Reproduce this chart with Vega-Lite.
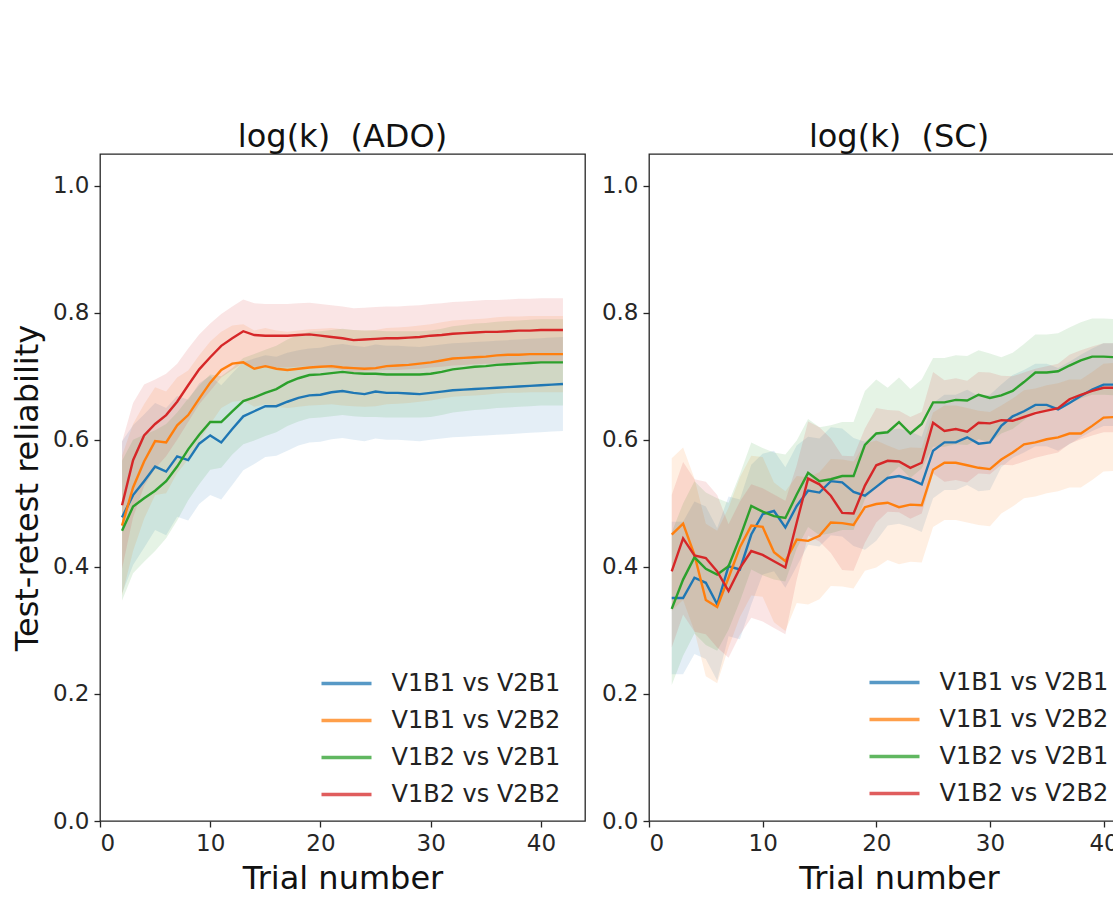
{
"$schema": "https://vega.github.io/schema/vega-lite/v6.json",
"padding": {"left": 10, "top": 120, "right": 0, "bottom": 0},
"background": "white",
"config": {
  "font": "DejaVu Sans",
  "view": {"stroke": "#262626", "strokeWidth": 1.3},
  "axis": {"grid": false, "domain": false, "tickColor": "#262626", "tickWidth": 1.3, "tickSize": 6, "labelFont": "DejaVu Sans", "labelFontSize": 23, "labelColor": "#262626", "labelPadding": 5, "titleFont": "DejaVu Sans", "titleFontSize": 32, "titleFontWeight": "normal", "titleColor": "#111111", "titlePadding": 8},
  "title": {"font": "DejaVu Sans", "fontSize": 32, "fontWeight": "normal", "color": "#111111", "offset": 0.1}
},
"datasets": {
"ado": [
{"series":"V1B1 vs V2B1","trial":2,"r":0.478,"lo":0.358,"hi":0.598},
{"series":"V1B1 vs V2B1","trial":3,"r":0.513,"lo":0.403,"hi":0.623},
{"series":"V1B1 vs V2B1","trial":4,"r":0.535,"lo":0.430,"hi":0.640},
{"series":"V1B1 vs V2B1","trial":5,"r":0.558,"lo":0.458,"hi":0.658},
{"series":"V1B1 vs V2B1","trial":6,"r":0.550,"lo":0.450,"hi":0.650},
{"series":"V1B1 vs V2B1","trial":7,"r":0.574,"lo":0.479,"hi":0.669},
{"series":"V1B1 vs V2B1","trial":8,"r":0.568,"lo":0.473,"hi":0.663},
{"series":"V1B1 vs V2B1","trial":9,"r":0.594,"lo":0.499,"hi":0.689},
{"series":"V1B1 vs V2B1","trial":10,"r":0.607,"lo":0.513,"hi":0.701},
{"series":"V1B1 vs V2B1","trial":11,"r":0.596,"lo":0.506,"hi":0.686},
{"series":"V1B1 vs V2B1","trial":12,"r":0.617,"lo":0.529,"hi":0.705},
{"series":"V1B1 vs V2B1","trial":13,"r":0.637,"lo":0.552,"hi":0.722},
{"series":"V1B1 vs V2B1","trial":14,"r":0.645,"lo":0.562,"hi":0.728},
{"series":"V1B1 vs V2B1","trial":15,"r":0.653,"lo":0.573,"hi":0.733},
{"series":"V1B1 vs V2B1","trial":16,"r":0.653,"lo":0.575,"hi":0.731},
{"series":"V1B1 vs V2B1","trial":17,"r":0.660,"lo":0.583,"hi":0.737},
{"series":"V1B1 vs V2B1","trial":18,"r":0.666,"lo":0.591,"hi":0.741},
{"series":"V1B1 vs V2B1","trial":19,"r":0.670,"lo":0.596,"hi":0.744},
{"series":"V1B1 vs V2B1","trial":20,"r":0.671,"lo":0.597,"hi":0.745},
{"series":"V1B1 vs V2B1","trial":21,"r":0.675,"lo":0.601,"hi":0.749},
{"series":"V1B1 vs V2B1","trial":22,"r":0.677,"lo":0.603,"hi":0.751},
{"series":"V1B1 vs V2B1","trial":23,"r":0.674,"lo":0.600,"hi":0.748},
{"series":"V1B1 vs V2B1","trial":24,"r":0.672,"lo":0.598,"hi":0.746},
{"series":"V1B1 vs V2B1","trial":25,"r":0.676,"lo":0.602,"hi":0.750},
{"series":"V1B1 vs V2B1","trial":26,"r":0.674,"lo":0.600,"hi":0.748},
{"series":"V1B1 vs V2B1","trial":27,"r":0.674,"lo":0.600,"hi":0.748},
{"series":"V1B1 vs V2B1","trial":28,"r":0.673,"lo":0.599,"hi":0.747},
{"series":"V1B1 vs V2B1","trial":29,"r":0.672,"lo":0.598,"hi":0.746},
{"series":"V1B1 vs V2B1","trial":30,"r":0.674,"lo":0.600,"hi":0.748},
{"series":"V1B1 vs V2B1","trial":31,"r":0.676,"lo":0.602,"hi":0.750},
{"series":"V1B1 vs V2B1","trial":32,"r":0.678,"lo":0.604,"hi":0.752},
{"series":"V1B1 vs V2B1","trial":33,"r":0.679,"lo":0.605,"hi":0.753},
{"series":"V1B1 vs V2B1","trial":34,"r":0.680,"lo":0.606,"hi":0.754},
{"series":"V1B1 vs V2B1","trial":35,"r":0.681,"lo":0.607,"hi":0.755},
{"series":"V1B1 vs V2B1","trial":36,"r":0.682,"lo":0.608,"hi":0.756},
{"series":"V1B1 vs V2B1","trial":37,"r":0.683,"lo":0.609,"hi":0.757},
{"series":"V1B1 vs V2B1","trial":38,"r":0.684,"lo":0.610,"hi":0.758},
{"series":"V1B1 vs V2B1","trial":39,"r":0.685,"lo":0.611,"hi":0.759},
{"series":"V1B1 vs V2B1","trial":40,"r":0.686,"lo":0.612,"hi":0.760},
{"series":"V1B1 vs V2B1","trial":41,"r":0.687,"lo":0.613,"hi":0.761},
{"series":"V1B1 vs V2B1","trial":42,"r":0.688,"lo":0.614,"hi":0.762},
{"series":"V1B1 vs V2B2","trial":2,"r":0.465,"lo":0.355,"hi":0.575},
{"series":"V1B1 vs V2B2","trial":3,"r":0.525,"lo":0.425,"hi":0.625},
{"series":"V1B1 vs V2B2","trial":4,"r":0.566,"lo":0.476,"hi":0.656},
{"series":"V1B1 vs V2B2","trial":5,"r":0.598,"lo":0.513,"hi":0.683},
{"series":"V1B1 vs V2B2","trial":6,"r":0.596,"lo":0.516,"hi":0.676},
{"series":"V1B1 vs V2B2","trial":7,"r":0.623,"lo":0.548,"hi":0.698},
{"series":"V1B1 vs V2B2","trial":8,"r":0.639,"lo":0.569,"hi":0.709},
{"series":"V1B1 vs V2B2","trial":9,"r":0.665,"lo":0.597,"hi":0.733},
{"series":"V1B1 vs V2B2","trial":10,"r":0.690,"lo":0.625,"hi":0.755},
{"series":"V1B1 vs V2B2","trial":11,"r":0.710,"lo":0.650,"hi":0.770},
{"series":"V1B1 vs V2B2","trial":12,"r":0.720,"lo":0.660,"hi":0.780},
{"series":"V1B1 vs V2B2","trial":13,"r":0.722,"lo":0.662,"hi":0.782},
{"series":"V1B1 vs V2B2","trial":14,"r":0.712,"lo":0.652,"hi":0.772},
{"series":"V1B1 vs V2B2","trial":15,"r":0.716,"lo":0.656,"hi":0.776},
{"series":"V1B1 vs V2B2","trial":16,"r":0.712,"lo":0.652,"hi":0.772},
{"series":"V1B1 vs V2B2","trial":17,"r":0.710,"lo":0.650,"hi":0.770},
{"series":"V1B1 vs V2B2","trial":18,"r":0.712,"lo":0.652,"hi":0.772},
{"series":"V1B1 vs V2B2","trial":19,"r":0.714,"lo":0.654,"hi":0.774},
{"series":"V1B1 vs V2B2","trial":20,"r":0.715,"lo":0.655,"hi":0.775},
{"series":"V1B1 vs V2B2","trial":21,"r":0.716,"lo":0.656,"hi":0.776},
{"series":"V1B1 vs V2B2","trial":22,"r":0.714,"lo":0.654,"hi":0.774},
{"series":"V1B1 vs V2B2","trial":23,"r":0.713,"lo":0.653,"hi":0.773},
{"series":"V1B1 vs V2B2","trial":24,"r":0.712,"lo":0.652,"hi":0.772},
{"series":"V1B1 vs V2B2","trial":25,"r":0.713,"lo":0.653,"hi":0.773},
{"series":"V1B1 vs V2B2","trial":26,"r":0.716,"lo":0.656,"hi":0.776},
{"series":"V1B1 vs V2B2","trial":27,"r":0.717,"lo":0.657,"hi":0.777},
{"series":"V1B1 vs V2B2","trial":28,"r":0.718,"lo":0.658,"hi":0.778},
{"series":"V1B1 vs V2B2","trial":29,"r":0.720,"lo":0.660,"hi":0.780},
{"series":"V1B1 vs V2B2","trial":30,"r":0.722,"lo":0.662,"hi":0.782},
{"series":"V1B1 vs V2B2","trial":31,"r":0.725,"lo":0.665,"hi":0.785},
{"series":"V1B1 vs V2B2","trial":32,"r":0.728,"lo":0.668,"hi":0.788},
{"series":"V1B1 vs V2B2","trial":33,"r":0.729,"lo":0.669,"hi":0.789},
{"series":"V1B1 vs V2B2","trial":34,"r":0.730,"lo":0.670,"hi":0.790},
{"series":"V1B1 vs V2B2","trial":35,"r":0.731,"lo":0.671,"hi":0.791},
{"series":"V1B1 vs V2B2","trial":36,"r":0.733,"lo":0.673,"hi":0.793},
{"series":"V1B1 vs V2B2","trial":37,"r":0.734,"lo":0.674,"hi":0.794},
{"series":"V1B1 vs V2B2","trial":38,"r":0.734,"lo":0.674,"hi":0.794},
{"series":"V1B1 vs V2B2","trial":39,"r":0.735,"lo":0.675,"hi":0.795},
{"series":"V1B1 vs V2B2","trial":40,"r":0.735,"lo":0.675,"hi":0.795},
{"series":"V1B1 vs V2B2","trial":41,"r":0.735,"lo":0.675,"hi":0.795},
{"series":"V1B1 vs V2B2","trial":42,"r":0.735,"lo":0.675,"hi":0.795},
{"series":"V1B2 vs V2B1","trial":2,"r":0.457,"lo":0.347,"hi":0.567},
{"series":"V1B2 vs V2B1","trial":3,"r":0.495,"lo":0.390,"hi":0.600},
{"series":"V1B2 vs V2B1","trial":4,"r":0.508,"lo":0.408,"hi":0.608},
{"series":"V1B2 vs V2B1","trial":5,"r":0.520,"lo":0.425,"hi":0.615},
{"series":"V1B2 vs V2B1","trial":6,"r":0.535,"lo":0.445,"hi":0.625},
{"series":"V1B2 vs V2B1","trial":7,"r":0.558,"lo":0.473,"hi":0.643},
{"series":"V1B2 vs V2B1","trial":8,"r":0.585,"lo":0.505,"hi":0.665},
{"series":"V1B2 vs V2B1","trial":9,"r":0.608,"lo":0.530,"hi":0.686},
{"series":"V1B2 vs V2B1","trial":10,"r":0.628,"lo":0.553,"hi":0.703},
{"series":"V1B2 vs V2B1","trial":11,"r":0.628,"lo":0.556,"hi":0.700},
{"series":"V1B2 vs V2B1","trial":12,"r":0.645,"lo":0.577,"hi":0.713},
{"series":"V1B2 vs V2B1","trial":13,"r":0.661,"lo":0.593,"hi":0.729},
{"series":"V1B2 vs V2B1","trial":14,"r":0.667,"lo":0.599,"hi":0.735},
{"series":"V1B2 vs V2B1","trial":15,"r":0.674,"lo":0.606,"hi":0.742},
{"series":"V1B2 vs V2B1","trial":16,"r":0.680,"lo":0.612,"hi":0.748},
{"series":"V1B2 vs V2B1","trial":17,"r":0.690,"lo":0.622,"hi":0.758},
{"series":"V1B2 vs V2B1","trial":18,"r":0.697,"lo":0.629,"hi":0.765},
{"series":"V1B2 vs V2B1","trial":19,"r":0.702,"lo":0.634,"hi":0.770},
{"series":"V1B2 vs V2B1","trial":20,"r":0.703,"lo":0.635,"hi":0.771},
{"series":"V1B2 vs V2B1","trial":21,"r":0.705,"lo":0.637,"hi":0.773},
{"series":"V1B2 vs V2B1","trial":22,"r":0.707,"lo":0.639,"hi":0.775},
{"series":"V1B2 vs V2B1","trial":23,"r":0.705,"lo":0.637,"hi":0.773},
{"series":"V1B2 vs V2B1","trial":24,"r":0.704,"lo":0.636,"hi":0.772},
{"series":"V1B2 vs V2B1","trial":25,"r":0.704,"lo":0.636,"hi":0.772},
{"series":"V1B2 vs V2B1","trial":26,"r":0.703,"lo":0.635,"hi":0.771},
{"series":"V1B2 vs V2B1","trial":27,"r":0.703,"lo":0.635,"hi":0.771},
{"series":"V1B2 vs V2B1","trial":28,"r":0.703,"lo":0.635,"hi":0.771},
{"series":"V1B2 vs V2B1","trial":29,"r":0.703,"lo":0.635,"hi":0.771},
{"series":"V1B2 vs V2B1","trial":30,"r":0.704,"lo":0.636,"hi":0.772},
{"series":"V1B2 vs V2B1","trial":31,"r":0.707,"lo":0.639,"hi":0.775},
{"series":"V1B2 vs V2B1","trial":32,"r":0.711,"lo":0.643,"hi":0.779},
{"series":"V1B2 vs V2B1","trial":33,"r":0.713,"lo":0.645,"hi":0.781},
{"series":"V1B2 vs V2B1","trial":34,"r":0.715,"lo":0.647,"hi":0.783},
{"series":"V1B2 vs V2B1","trial":35,"r":0.716,"lo":0.648,"hi":0.784},
{"series":"V1B2 vs V2B1","trial":36,"r":0.718,"lo":0.650,"hi":0.786},
{"series":"V1B2 vs V2B1","trial":37,"r":0.719,"lo":0.651,"hi":0.787},
{"series":"V1B2 vs V2B1","trial":38,"r":0.720,"lo":0.652,"hi":0.788},
{"series":"V1B2 vs V2B1","trial":39,"r":0.721,"lo":0.653,"hi":0.789},
{"series":"V1B2 vs V2B1","trial":40,"r":0.722,"lo":0.654,"hi":0.790},
{"series":"V1B2 vs V2B1","trial":41,"r":0.722,"lo":0.654,"hi":0.790},
{"series":"V1B2 vs V2B1","trial":42,"r":0.722,"lo":0.654,"hi":0.790},
{"series":"V1B2 vs V2B2","trial":2,"r":0.497,"lo":0.397,"hi":0.597},
{"series":"V1B2 vs V2B2","trial":3,"r":0.568,"lo":0.478,"hi":0.658},
{"series":"V1B2 vs V2B2","trial":4,"r":0.607,"lo":0.527,"hi":0.687},
{"series":"V1B2 vs V2B2","trial":5,"r":0.625,"lo":0.555,"hi":0.695},
{"series":"V1B2 vs V2B2","trial":6,"r":0.639,"lo":0.574,"hi":0.704},
{"series":"V1B2 vs V2B2","trial":7,"r":0.660,"lo":0.600,"hi":0.720},
{"series":"V1B2 vs V2B2","trial":8,"r":0.686,"lo":0.628,"hi":0.744},
{"series":"V1B2 vs V2B2","trial":9,"r":0.711,"lo":0.656,"hi":0.766},
{"series":"V1B2 vs V2B2","trial":10,"r":0.730,"lo":0.677,"hi":0.783},
{"series":"V1B2 vs V2B2","trial":11,"r":0.748,"lo":0.698,"hi":0.798},
{"series":"V1B2 vs V2B2","trial":12,"r":0.760,"lo":0.710,"hi":0.810},
{"series":"V1B2 vs V2B2","trial":13,"r":0.771,"lo":0.721,"hi":0.821},
{"series":"V1B2 vs V2B2","trial":14,"r":0.765,"lo":0.715,"hi":0.815},
{"series":"V1B2 vs V2B2","trial":15,"r":0.764,"lo":0.714,"hi":0.814},
{"series":"V1B2 vs V2B2","trial":16,"r":0.764,"lo":0.714,"hi":0.814},
{"series":"V1B2 vs V2B2","trial":17,"r":0.764,"lo":0.714,"hi":0.814},
{"series":"V1B2 vs V2B2","trial":18,"r":0.765,"lo":0.715,"hi":0.815},
{"series":"V1B2 vs V2B2","trial":19,"r":0.766,"lo":0.716,"hi":0.816},
{"series":"V1B2 vs V2B2","trial":20,"r":0.764,"lo":0.714,"hi":0.814},
{"series":"V1B2 vs V2B2","trial":21,"r":0.762,"lo":0.712,"hi":0.812},
{"series":"V1B2 vs V2B2","trial":22,"r":0.760,"lo":0.710,"hi":0.810},
{"series":"V1B2 vs V2B2","trial":23,"r":0.757,"lo":0.707,"hi":0.807},
{"series":"V1B2 vs V2B2","trial":24,"r":0.758,"lo":0.708,"hi":0.808},
{"series":"V1B2 vs V2B2","trial":25,"r":0.759,"lo":0.709,"hi":0.809},
{"series":"V1B2 vs V2B2","trial":26,"r":0.760,"lo":0.710,"hi":0.810},
{"series":"V1B2 vs V2B2","trial":27,"r":0.760,"lo":0.710,"hi":0.810},
{"series":"V1B2 vs V2B2","trial":28,"r":0.761,"lo":0.711,"hi":0.811},
{"series":"V1B2 vs V2B2","trial":29,"r":0.762,"lo":0.712,"hi":0.812},
{"series":"V1B2 vs V2B2","trial":30,"r":0.764,"lo":0.714,"hi":0.814},
{"series":"V1B2 vs V2B2","trial":31,"r":0.765,"lo":0.715,"hi":0.815},
{"series":"V1B2 vs V2B2","trial":32,"r":0.767,"lo":0.717,"hi":0.817},
{"series":"V1B2 vs V2B2","trial":33,"r":0.768,"lo":0.718,"hi":0.818},
{"series":"V1B2 vs V2B2","trial":34,"r":0.769,"lo":0.719,"hi":0.819},
{"series":"V1B2 vs V2B2","trial":35,"r":0.770,"lo":0.720,"hi":0.820},
{"series":"V1B2 vs V2B2","trial":36,"r":0.770,"lo":0.720,"hi":0.820},
{"series":"V1B2 vs V2B2","trial":37,"r":0.771,"lo":0.721,"hi":0.821},
{"series":"V1B2 vs V2B2","trial":38,"r":0.772,"lo":0.722,"hi":0.822},
{"series":"V1B2 vs V2B2","trial":39,"r":0.772,"lo":0.722,"hi":0.822},
{"series":"V1B2 vs V2B2","trial":40,"r":0.773,"lo":0.723,"hi":0.823},
{"series":"V1B2 vs V2B2","trial":41,"r":0.773,"lo":0.723,"hi":0.823},
{"series":"V1B2 vs V2B2","trial":42,"r":0.773,"lo":0.723,"hi":0.823}
],
"sc": [
{"series":"V1B1 vs V2B1","trial":2,"r":0.351,"lo":0.231,"hi":0.471},
{"series":"V1B1 vs V2B1","trial":3,"r":0.351,"lo":0.231,"hi":0.471},
{"series":"V1B1 vs V2B1","trial":4,"r":0.383,"lo":0.263,"hi":0.503},
{"series":"V1B1 vs V2B1","trial":5,"r":0.375,"lo":0.255,"hi":0.495},
{"series":"V1B1 vs V2B1","trial":6,"r":0.341,"lo":0.221,"hi":0.461},
{"series":"V1B1 vs V2B1","trial":7,"r":0.401,"lo":0.291,"hi":0.511},
{"series":"V1B1 vs V2B1","trial":8,"r":0.396,"lo":0.286,"hi":0.506},
{"series":"V1B1 vs V2B1","trial":9,"r":0.451,"lo":0.341,"hi":0.561},
{"series":"V1B1 vs V2B1","trial":10,"r":0.483,"lo":0.388,"hi":0.578},
{"series":"V1B1 vs V2B1","trial":11,"r":0.488,"lo":0.393,"hi":0.583},
{"series":"V1B1 vs V2B1","trial":12,"r":0.462,"lo":0.367,"hi":0.557},
{"series":"V1B1 vs V2B1","trial":13,"r":0.496,"lo":0.401,"hi":0.591},
{"series":"V1B1 vs V2B1","trial":14,"r":0.520,"lo":0.435,"hi":0.605},
{"series":"V1B1 vs V2B1","trial":15,"r":0.517,"lo":0.432,"hi":0.602},
{"series":"V1B1 vs V2B1","trial":16,"r":0.535,"lo":0.450,"hi":0.620},
{"series":"V1B1 vs V2B1","trial":17,"r":0.533,"lo":0.448,"hi":0.618},
{"series":"V1B1 vs V2B1","trial":18,"r":0.518,"lo":0.433,"hi":0.603},
{"series":"V1B1 vs V2B1","trial":19,"r":0.512,"lo":0.427,"hi":0.597},
{"series":"V1B1 vs V2B1","trial":20,"r":0.526,"lo":0.441,"hi":0.611},
{"series":"V1B1 vs V2B1","trial":21,"r":0.540,"lo":0.465,"hi":0.615},
{"series":"V1B1 vs V2B1","trial":22,"r":0.543,"lo":0.468,"hi":0.618},
{"series":"V1B1 vs V2B1","trial":23,"r":0.538,"lo":0.463,"hi":0.613},
{"series":"V1B1 vs V2B1","trial":24,"r":0.530,"lo":0.455,"hi":0.605},
{"series":"V1B1 vs V2B1","trial":25,"r":0.583,"lo":0.508,"hi":0.658},
{"series":"V1B1 vs V2B1","trial":26,"r":0.596,"lo":0.521,"hi":0.671},
{"series":"V1B1 vs V2B1","trial":27,"r":0.596,"lo":0.521,"hi":0.671},
{"series":"V1B1 vs V2B1","trial":28,"r":0.604,"lo":0.529,"hi":0.679},
{"series":"V1B1 vs V2B1","trial":29,"r":0.594,"lo":0.519,"hi":0.669},
{"series":"V1B1 vs V2B1","trial":30,"r":0.596,"lo":0.521,"hi":0.671},
{"series":"V1B1 vs V2B1","trial":31,"r":0.622,"lo":0.557,"hi":0.687},
{"series":"V1B1 vs V2B1","trial":32,"r":0.637,"lo":0.572,"hi":0.702},
{"series":"V1B1 vs V2B1","trial":33,"r":0.645,"lo":0.580,"hi":0.710},
{"series":"V1B1 vs V2B1","trial":34,"r":0.655,"lo":0.590,"hi":0.720},
{"series":"V1B1 vs V2B1","trial":35,"r":0.655,"lo":0.590,"hi":0.720},
{"series":"V1B1 vs V2B1","trial":36,"r":0.648,"lo":0.583,"hi":0.713},
{"series":"V1B1 vs V2B1","trial":37,"r":0.658,"lo":0.593,"hi":0.723},
{"series":"V1B1 vs V2B1","trial":38,"r":0.669,"lo":0.604,"hi":0.734},
{"series":"V1B1 vs V2B1","trial":39,"r":0.679,"lo":0.614,"hi":0.744},
{"series":"V1B1 vs V2B1","trial":40,"r":0.687,"lo":0.622,"hi":0.752},
{"series":"V1B1 vs V2B1","trial":41,"r":0.687,"lo":0.622,"hi":0.752},
{"series":"V1B1 vs V2B1","trial":42,"r":0.688,"lo":0.623,"hi":0.753},
{"series":"V1B1 vs V2B2","trial":2,"r":0.451,"lo":0.331,"hi":0.571},
{"series":"V1B1 vs V2B2","trial":3,"r":0.468,"lo":0.348,"hi":0.588},
{"series":"V1B1 vs V2B2","trial":4,"r":0.419,"lo":0.299,"hi":0.539},
{"series":"V1B1 vs V2B2","trial":5,"r":0.348,"lo":0.228,"hi":0.468},
{"series":"V1B1 vs V2B2","trial":6,"r":0.337,"lo":0.217,"hi":0.457},
{"series":"V1B1 vs V2B2","trial":7,"r":0.383,"lo":0.273,"hi":0.493},
{"series":"V1B1 vs V2B2","trial":8,"r":0.431,"lo":0.321,"hi":0.541},
{"series":"V1B1 vs V2B2","trial":9,"r":0.465,"lo":0.355,"hi":0.575},
{"series":"V1B1 vs V2B2","trial":10,"r":0.463,"lo":0.353,"hi":0.573},
{"series":"V1B1 vs V2B2","trial":11,"r":0.423,"lo":0.313,"hi":0.533},
{"series":"V1B1 vs V2B2","trial":12,"r":0.409,"lo":0.299,"hi":0.519},
{"series":"V1B1 vs V2B2","trial":13,"r":0.443,"lo":0.343,"hi":0.543},
{"series":"V1B1 vs V2B2","trial":14,"r":0.441,"lo":0.341,"hi":0.541},
{"series":"V1B1 vs V2B2","trial":15,"r":0.449,"lo":0.349,"hi":0.549},
{"series":"V1B1 vs V2B2","trial":16,"r":0.470,"lo":0.370,"hi":0.570},
{"series":"V1B1 vs V2B2","trial":17,"r":0.469,"lo":0.369,"hi":0.569},
{"series":"V1B1 vs V2B2","trial":18,"r":0.466,"lo":0.366,"hi":0.566},
{"series":"V1B1 vs V2B2","trial":19,"r":0.494,"lo":0.394,"hi":0.594},
{"series":"V1B1 vs V2B2","trial":20,"r":0.499,"lo":0.399,"hi":0.599},
{"series":"V1B1 vs V2B2","trial":21,"r":0.501,"lo":0.411,"hi":0.591},
{"series":"V1B1 vs V2B2","trial":22,"r":0.494,"lo":0.404,"hi":0.584},
{"series":"V1B1 vs V2B2","trial":23,"r":0.498,"lo":0.408,"hi":0.588},
{"series":"V1B1 vs V2B2","trial":24,"r":0.497,"lo":0.407,"hi":0.587},
{"series":"V1B1 vs V2B2","trial":25,"r":0.553,"lo":0.463,"hi":0.643},
{"series":"V1B1 vs V2B2","trial":26,"r":0.564,"lo":0.474,"hi":0.654},
{"series":"V1B1 vs V2B2","trial":27,"r":0.564,"lo":0.474,"hi":0.654},
{"series":"V1B1 vs V2B2","trial":28,"r":0.560,"lo":0.470,"hi":0.650},
{"series":"V1B1 vs V2B2","trial":29,"r":0.556,"lo":0.466,"hi":0.646},
{"series":"V1B1 vs V2B2","trial":30,"r":0.554,"lo":0.464,"hi":0.644},
{"series":"V1B1 vs V2B2","trial":31,"r":0.569,"lo":0.484,"hi":0.654},
{"series":"V1B1 vs V2B2","trial":32,"r":0.580,"lo":0.495,"hi":0.665},
{"series":"V1B1 vs V2B2","trial":33,"r":0.593,"lo":0.508,"hi":0.678},
{"series":"V1B1 vs V2B2","trial":34,"r":0.596,"lo":0.511,"hi":0.681},
{"series":"V1B1 vs V2B2","trial":35,"r":0.601,"lo":0.516,"hi":0.686},
{"series":"V1B1 vs V2B2","trial":36,"r":0.604,"lo":0.519,"hi":0.689},
{"series":"V1B1 vs V2B2","trial":37,"r":0.610,"lo":0.525,"hi":0.695},
{"series":"V1B1 vs V2B2","trial":38,"r":0.610,"lo":0.525,"hi":0.695},
{"series":"V1B1 vs V2B2","trial":39,"r":0.622,"lo":0.537,"hi":0.707},
{"series":"V1B1 vs V2B2","trial":40,"r":0.635,"lo":0.550,"hi":0.720},
{"series":"V1B1 vs V2B2","trial":41,"r":0.636,"lo":0.551,"hi":0.721},
{"series":"V1B1 vs V2B2","trial":42,"r":0.637,"lo":0.552,"hi":0.722},
{"series":"V1B2 vs V2B1","trial":2,"r":0.334,"lo":0.214,"hi":0.454},
{"series":"V1B2 vs V2B1","trial":3,"r":0.380,"lo":0.260,"hi":0.500},
{"series":"V1B2 vs V2B1","trial":4,"r":0.415,"lo":0.295,"hi":0.535},
{"series":"V1B2 vs V2B1","trial":5,"r":0.397,"lo":0.277,"hi":0.517},
{"series":"V1B2 vs V2B1","trial":6,"r":0.388,"lo":0.268,"hi":0.508},
{"series":"V1B2 vs V2B1","trial":7,"r":0.401,"lo":0.301,"hi":0.501},
{"series":"V1B2 vs V2B1","trial":8,"r":0.446,"lo":0.346,"hi":0.546},
{"series":"V1B2 vs V2B1","trial":9,"r":0.496,"lo":0.396,"hi":0.596},
{"series":"V1B2 vs V2B1","trial":10,"r":0.487,"lo":0.387,"hi":0.587},
{"series":"V1B2 vs V2B1","trial":11,"r":0.480,"lo":0.380,"hi":0.580},
{"series":"V1B2 vs V2B1","trial":12,"r":0.477,"lo":0.377,"hi":0.577},
{"series":"V1B2 vs V2B1","trial":13,"r":0.514,"lo":0.429,"hi":0.599},
{"series":"V1B2 vs V2B1","trial":14,"r":0.548,"lo":0.463,"hi":0.633},
{"series":"V1B2 vs V2B1","trial":15,"r":0.535,"lo":0.450,"hi":0.620},
{"series":"V1B2 vs V2B1","trial":16,"r":0.538,"lo":0.453,"hi":0.623},
{"series":"V1B2 vs V2B1","trial":17,"r":0.543,"lo":0.458,"hi":0.628},
{"series":"V1B2 vs V2B1","trial":18,"r":0.543,"lo":0.458,"hi":0.628},
{"series":"V1B2 vs V2B1","trial":19,"r":0.592,"lo":0.507,"hi":0.677},
{"series":"V1B2 vs V2B1","trial":20,"r":0.610,"lo":0.525,"hi":0.695},
{"series":"V1B2 vs V2B1","trial":21,"r":0.612,"lo":0.542,"hi":0.682},
{"series":"V1B2 vs V2B1","trial":22,"r":0.628,"lo":0.558,"hi":0.698},
{"series":"V1B2 vs V2B1","trial":23,"r":0.610,"lo":0.540,"hi":0.680},
{"series":"V1B2 vs V2B1","trial":24,"r":0.625,"lo":0.555,"hi":0.695},
{"series":"V1B2 vs V2B1","trial":25,"r":0.659,"lo":0.589,"hi":0.729},
{"series":"V1B2 vs V2B1","trial":26,"r":0.659,"lo":0.589,"hi":0.729},
{"series":"V1B2 vs V2B1","trial":27,"r":0.663,"lo":0.593,"hi":0.733},
{"series":"V1B2 vs V2B1","trial":28,"r":0.662,"lo":0.592,"hi":0.732},
{"series":"V1B2 vs V2B1","trial":29,"r":0.671,"lo":0.601,"hi":0.741},
{"series":"V1B2 vs V2B1","trial":30,"r":0.666,"lo":0.596,"hi":0.736},
{"series":"V1B2 vs V2B1","trial":31,"r":0.670,"lo":0.610,"hi":0.730},
{"series":"V1B2 vs V2B1","trial":32,"r":0.677,"lo":0.617,"hi":0.737},
{"series":"V1B2 vs V2B1","trial":33,"r":0.691,"lo":0.631,"hi":0.751},
{"series":"V1B2 vs V2B1","trial":34,"r":0.706,"lo":0.646,"hi":0.766},
{"series":"V1B2 vs V2B1","trial":35,"r":0.706,"lo":0.646,"hi":0.766},
{"series":"V1B2 vs V2B1","trial":36,"r":0.708,"lo":0.648,"hi":0.768},
{"series":"V1B2 vs V2B1","trial":37,"r":0.717,"lo":0.657,"hi":0.777},
{"series":"V1B2 vs V2B1","trial":38,"r":0.725,"lo":0.665,"hi":0.785},
{"series":"V1B2 vs V2B1","trial":39,"r":0.731,"lo":0.671,"hi":0.791},
{"series":"V1B2 vs V2B1","trial":40,"r":0.731,"lo":0.671,"hi":0.791},
{"series":"V1B2 vs V2B1","trial":41,"r":0.730,"lo":0.670,"hi":0.790},
{"series":"V1B2 vs V2B1","trial":42,"r":0.730,"lo":0.670,"hi":0.790},
{"series":"V1B2 vs V2B2","trial":2,"r":0.393,"lo":0.273,"hi":0.513},
{"series":"V1B2 vs V2B2","trial":3,"r":0.445,"lo":0.325,"hi":0.565},
{"series":"V1B2 vs V2B2","trial":4,"r":0.418,"lo":0.298,"hi":0.538},
{"series":"V1B2 vs V2B2","trial":5,"r":0.414,"lo":0.294,"hi":0.534},
{"series":"V1B2 vs V2B2","trial":6,"r":0.393,"lo":0.273,"hi":0.513},
{"series":"V1B2 vs V2B2","trial":7,"r":0.362,"lo":0.257,"hi":0.467},
{"series":"V1B2 vs V2B2","trial":8,"r":0.398,"lo":0.293,"hi":0.503},
{"series":"V1B2 vs V2B2","trial":9,"r":0.425,"lo":0.320,"hi":0.530},
{"series":"V1B2 vs V2B2","trial":10,"r":0.419,"lo":0.314,"hi":0.524},
{"series":"V1B2 vs V2B2","trial":11,"r":0.409,"lo":0.304,"hi":0.514},
{"series":"V1B2 vs V2B2","trial":12,"r":0.399,"lo":0.294,"hi":0.504},
{"series":"V1B2 vs V2B2","trial":13,"r":0.470,"lo":0.380,"hi":0.560},
{"series":"V1B2 vs V2B2","trial":14,"r":0.539,"lo":0.449,"hi":0.629},
{"series":"V1B2 vs V2B2","trial":15,"r":0.530,"lo":0.440,"hi":0.620},
{"series":"V1B2 vs V2B2","trial":16,"r":0.512,"lo":0.422,"hi":0.602},
{"series":"V1B2 vs V2B2","trial":17,"r":0.485,"lo":0.395,"hi":0.575},
{"series":"V1B2 vs V2B2","trial":18,"r":0.484,"lo":0.394,"hi":0.574},
{"series":"V1B2 vs V2B2","trial":19,"r":0.528,"lo":0.438,"hi":0.618},
{"series":"V1B2 vs V2B2","trial":20,"r":0.560,"lo":0.470,"hi":0.650},
{"series":"V1B2 vs V2B2","trial":21,"r":0.567,"lo":0.487,"hi":0.647},
{"series":"V1B2 vs V2B2","trial":22,"r":0.566,"lo":0.486,"hi":0.646},
{"series":"V1B2 vs V2B2","trial":23,"r":0.556,"lo":0.476,"hi":0.636},
{"series":"V1B2 vs V2B2","trial":24,"r":0.564,"lo":0.484,"hi":0.644},
{"series":"V1B2 vs V2B2","trial":25,"r":0.627,"lo":0.547,"hi":0.707},
{"series":"V1B2 vs V2B2","trial":26,"r":0.614,"lo":0.534,"hi":0.694},
{"series":"V1B2 vs V2B2","trial":27,"r":0.617,"lo":0.537,"hi":0.697},
{"series":"V1B2 vs V2B2","trial":28,"r":0.613,"lo":0.533,"hi":0.693},
{"series":"V1B2 vs V2B2","trial":29,"r":0.627,"lo":0.547,"hi":0.707},
{"series":"V1B2 vs V2B2","trial":30,"r":0.626,"lo":0.546,"hi":0.706},
{"series":"V1B2 vs V2B2","trial":31,"r":0.631,"lo":0.561,"hi":0.701},
{"series":"V1B2 vs V2B2","trial":32,"r":0.630,"lo":0.560,"hi":0.700},
{"series":"V1B2 vs V2B2","trial":33,"r":0.636,"lo":0.566,"hi":0.706},
{"series":"V1B2 vs V2B2","trial":34,"r":0.642,"lo":0.572,"hi":0.712},
{"series":"V1B2 vs V2B2","trial":35,"r":0.646,"lo":0.576,"hi":0.716},
{"series":"V1B2 vs V2B2","trial":36,"r":0.650,"lo":0.580,"hi":0.720},
{"series":"V1B2 vs V2B2","trial":37,"r":0.664,"lo":0.594,"hi":0.734},
{"series":"V1B2 vs V2B2","trial":38,"r":0.671,"lo":0.601,"hi":0.741},
{"series":"V1B2 vs V2B2","trial":39,"r":0.677,"lo":0.607,"hi":0.747},
{"series":"V1B2 vs V2B2","trial":40,"r":0.682,"lo":0.612,"hi":0.752},
{"series":"V1B2 vs V2B2","trial":41,"r":0.682,"lo":0.612,"hi":0.752},
{"series":"V1B2 vs V2B2","trial":42,"r":0.682,"lo":0.612,"hi":0.752}
]
},
"spacing": 14,
"resolve": {"scale": {"color": "independent"}, "legend": {"color": "independent"}},
"hconcat": [
{
  "width": 485, "height": 667,
  "title": {"text": "log(k)\u00a0\u00a0(ADO)"},
  "data": {"name": "ado"},
  "encoding": {"x": {"field": "trial", "type": "quantitative", "title": "Trial number", "scale": {"domain": [0, 44], "nice": false, "zero": false}, "axis": {"values": [0, 10, 20, 30, 40]}}},
  "layer": [
    {"mark": {"type": "area", "fillOpacity": 0.12},
     "encoding": {
       "y": {"field": "lo", "type": "quantitative", "title": "Test-retest reliability", "scale": {"domain": [0, 1.05], "nice": false}, "axis": {"values": [0, 0.2, 0.4, 0.6, 0.8, 1.0], "format": ".1f", "title": "Test-retest reliability"}},
       "y2": {"field": "hi"},
       "fill": {"field": "series", "type": "nominal", "scale": {"domain": ["V1B1 vs V2B1", "V1B1 vs V2B2", "V1B2 vs V2B1", "V1B2 vs V2B2"], "range": ["#1f77b4", "#ff7f0e", "#2ca02c", "#d62728"]}, "legend": null}
     }},
    {"mark": {"type": "line", "strokeWidth": 2.4},
     "encoding": {
       "y": {"field": "r", "type": "quantitative", "title": "Test-retest reliability", "axis": {"values": [0, 0.2, 0.4, 0.6, 0.8, 1.0], "format": ".1f", "title": "Test-retest reliability"}},
       "color": {"field": "series", "type": "nominal", "scale": {"domain": ["V1B1 vs V2B1", "V1B1 vs V2B2", "V1B2 vs V2B1", "V1B2 vs V2B2"], "range": ["#1f77b4", "#ff7f0e", "#2ca02c", "#d62728"]},
         "legend": {"title": null, "orient": "none", "legendX": 232, "legendY": 515, "rowPadding": 10, "symbolType": "M-2,0H2", "symbolSize": 625, "symbolStrokeWidth": 3.5, "symbolOpacity": 0.75, "labelFont": "DejaVu Sans", "labelFontSize": 24, "labelColor": "#222222", "labelOffset": 30.5, "padding": 0, "labelLimit": 400}}
     }}
  ]
},
{
  "width": 500, "height": 667,
  "title": {"text": "log(k)\u00a0\u00a0(SC)"},
  "data": {"name": "sc"},
  "encoding": {"x": {"field": "trial", "type": "quantitative", "title": "Trial number", "scale": {"domain": [0, 44], "nice": false, "zero": false}, "axis": {"values": [0, 10, 20, 30, 40]}}},
  "layer": [
    {"mark": {"type": "area", "fillOpacity": 0.12},
     "encoding": {
       "y": {"field": "lo", "type": "quantitative", "title": null, "scale": {"domain": [0, 1.05], "nice": false}, "axis": {"values": [0, 0.2, 0.4, 0.6, 0.8, 1.0], "format": ".1f", "title": null}},
       "y2": {"field": "hi"},
       "fill": {"field": "series", "type": "nominal", "scale": {"domain": ["V1B1 vs V2B1", "V1B1 vs V2B2", "V1B2 vs V2B1", "V1B2 vs V2B2"], "range": ["#1f77b4", "#ff7f0e", "#2ca02c", "#d62728"]}, "legend": null}
     }},
    {"mark": {"type": "line", "strokeWidth": 2.4},
     "encoding": {
       "y": {"field": "r", "type": "quantitative", "title": null, "axis": {"values": [0, 0.2, 0.4, 0.6, 0.8, 1.0], "format": ".1f", "title": null}},
       "color": {"field": "series", "type": "nominal", "scale": {"domain": ["V1B1 vs V2B1", "V1B1 vs V2B2", "V1B2 vs V2B1", "V1B2 vs V2B2"], "range": ["#1f77b4", "#ff7f0e", "#2ca02c", "#d62728"]},
         "legend": {"title": null, "orient": "none", "legendX": 231, "legendY": 514, "rowPadding": 10, "symbolType": "M-2,0H2", "symbolSize": 625, "symbolStrokeWidth": 3.5, "symbolOpacity": 0.75, "labelFont": "DejaVu Sans", "labelFontSize": 24, "labelColor": "#222222", "labelOffset": 30.5, "padding": 0, "labelLimit": 400}}
     }}
  ]
}
]
}
